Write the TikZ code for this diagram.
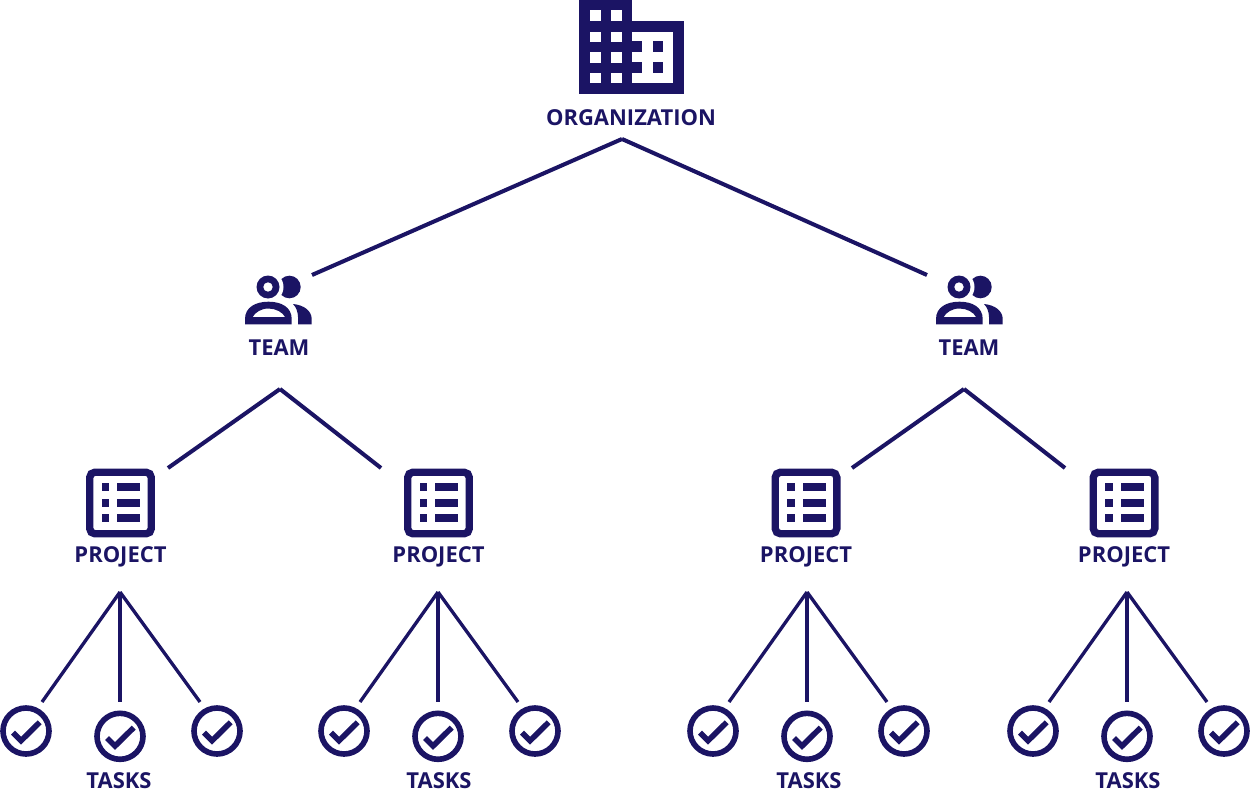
\documentclass[tikz,border=0pt]{standalone}
\usepackage{fontspec}
\setmainfont{Open Sans}
\usepackage{xcolor}
\usetikzlibrary{arrows.meta,positioning}
\definecolor{orgnavy}{RGB}{27,20,100}
\tikzset{
  figlabel/.style={font=\fontsize{12.5pt}{15pt}\selectfont\bfseries, text=orgnavy, inner sep=0pt, anchor=base},
  line/.style={draw=orgnavy, line width=2.3pt},
  thinline/.style={draw=orgnavy, line width=1.9pt},
  orgicon/.pic={
    \fill[orgnavy] (0,0) rectangle (52.5,93.7);
    \fill[orgnavy] (52,21) rectangle (104.3,93.7);
    \fill[white] (52.7,31.7) rectangle (94,83);
    \fill[orgnavy] (52,41.3) rectangle (63,52);
    \fill[orgnavy] (52,62.3) rectangle (63,72.7);
    \fill[orgnavy] (73.3,41.3) rectangle (83.7,52);
    \fill[orgnavy] (73.3,62.3) rectangle (83.7,72.7);
    \foreach \wx in {11,32}
      \foreach \wy in {10.3,31.7,52.3,73}
        \fill[white] (\wx,\wy) rectangle (\wx+10.3,\wy+10.5);
  },
  teamicon/.pic={
    \fill[orgnavy] (21.4,0) circle (11.3);
    \fill[white] (0,0) circle (15.5);
    \fill[orgnavy, even odd rule] (0,0) circle (11.5) (0,0) circle (4.8);
    \fill[orgnavy, even odd rule] (-23,37.3) -- (-23,32) .. controls (-23,20) and (-12,14.7) .. (0.5,14.7)
      .. controls (13,14.7) and (23.7,20) .. (23.7,32) -- (23.7,37.3) -- cycle
      (-15.3,30) .. controls (-13,25.5) and (-7,21.5) .. (0.5,21.5) .. controls (8,21.5) and (15,25.5) .. (17,30) -- cycle;
    \fill[orgnavy] (25,17) .. controls (36,18) and (43.7,24) .. (43.7,32) -- (43.7,37.3) -- (30,37.3)
      -- (30,30) .. controls (30,25) and (28,20) .. (25,17) -- cycle;
  },
  projecticon/.pic={
    \draw[orgnavy, line width=4.2pt, rounded corners=3pt] (-30.8,-30.8) rectangle (30.8,30.8);
    \foreach \ry in {-19.7,-4.3,11}{
      \fill[orgnavy] (-18.8,\ry) rectangle (-11.2,\ry+8);
      \fill[orgnavy] (-3.5,\ry) rectangle (19.8,\ry+8);
    }
  },
  taskicon/.pic={
    \draw[orgnavy, line width=3.2pt] (0,0) circle (23);
    \draw[orgnavy, line width=3.2pt] (-13,1.7) -- (-5,9.7) -- (13.7,-8.7);
  }
}
\begin{document}
\begin{tikzpicture}[x=0.02cm,y=-0.02cm]
  \useasboundingbox (0,0) rectangle (1250,794);

  \pic at (579.3,0) {orgicon};
  \node[figlabel] (organization) at (631,125) {ORGANIZATION};
  \coordinate (orgApex) at (622,139);

  \pic at (268,287) {teamicon};
  \node[figlabel] (teamA) at (279,355) {TEAM};
  \coordinate (teamEndA) at (312,275);
  \coordinate (teamApexA) at (280,389);
  \pic at (959,287) {teamicon};
  \node[figlabel] (teamB) at (969,355) {TEAM};
  \coordinate (teamEndB) at (927,275);
  \coordinate (teamApexB) at (964,389);

  \foreach \p/\px/\ex in {1/120.5/168, 2/438.5/381, 3/806/852, 4/1124/1065}{
    \pic at (\px,503) {projecticon};
    \node[figlabel] (project\p) at (\px,562.5) {PROJECT};
    \coordinate (projectEnd\p) at (\ex,468);
  }

  \foreach \g/\tx/\lx in {1/120/119, 2/438/439, 3/807/809, 4/1127/1128}{
    \pic at (\tx-94,731) {taskicon};
    \pic at (\tx,736.3) {taskicon};
    \pic at (\tx+97,731) {taskicon};
    \node[figlabel] (tasks\g) at (\lx,788) {TASKS};
    \coordinate (taskApex\g) at (\tx,592);
    \coordinate (taskEndL\g) at (\tx-78,702);
    \coordinate (taskEndM\g) at (\tx,702);
    \coordinate (taskEndR\g) at (\tx+80,702);
    \draw[thinline] (taskApex\g) -- (taskEndL\g);
    \draw[thinline] (taskApex\g) -- (taskEndM\g);
    \draw[thinline] (taskApex\g) -- (taskEndR\g);
  }

  \draw[line] (orgApex) -- (teamEndA);
  \draw[line] (orgApex) -- (teamEndB);
  \draw[line] (teamApexA) -- (projectEnd1);
  \draw[line] (teamApexA) -- (projectEnd2);
  \draw[line] (teamApexB) -- (projectEnd3);
  \draw[line] (teamApexB) -- (projectEnd4);
\end{tikzpicture}
\end{document}
